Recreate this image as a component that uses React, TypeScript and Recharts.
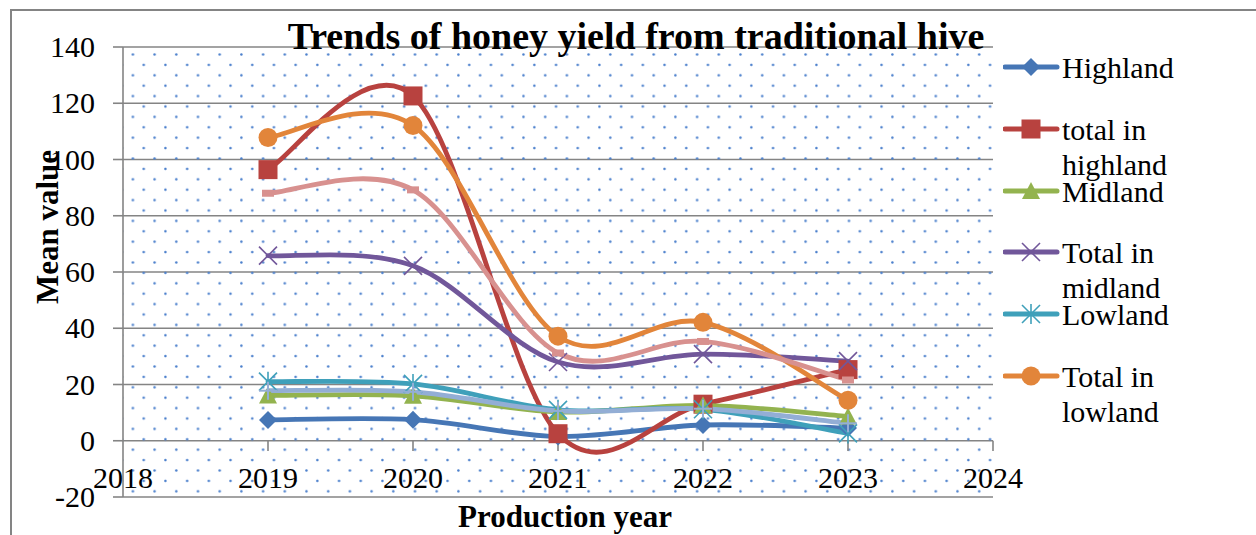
import React from 'react'
import { LineChart, Line, XAxis, YAxis, CartesianGrid, ReferenceArea, ReferenceLine, Label } from 'recharts'

// values (mean honey yield per year)
const years = [2019, 2020, 2021, 2022, 2023]
const highland = [7.4, 7.5, 1.5, 5.6, 4.5]
const totalHighland = [96.4, 122.6, 2.5, 13.0, 25.3]
const midland = [16.1, 16.0, 10.2, 12.6, 8.6]
const totalMidland = [65.8, 62.2, 28.0, 30.8, 28.3]
const lowland = [21.0, 20.2, 11.0, 11.2, 2.6]
const totalLowland = [107.8, 112.1, 37.2, 42.1, 14.4]
// two more series whose legend entries are cut off in the original
const series7 = [88.0, 89.2, 31.2, 35.3, 21.6]
const series8 = [17.8, 17.4, 10.6, 11.4, 6.2]

const xTicks = [2018, 2019, 2020, 2021, 2022, 2023, 2024]
const yTicks = [-20, 0, 20, 40, 60, 80, 100, 120, 140]

const FONT = "'Liberation Serif', 'Times New Roman', serif"
const GRID = '#848484'

type Shape = 'diamond' | 'square' | 'triangle' | 'x' | 'star' | 'circle' | 'dash' | 'plus'

const series: { key: string; name: string; color: string; shape: Shape; legend: boolean }[] = [
  { key: 'highland', name: 'Highland', color: '#4676B5', shape: 'diamond', legend: true },
  { key: 'totalHighland', name: 'total in highland', color: '#B8423F', shape: 'square', legend: true },
  { key: 'midland', name: 'Midland', color: '#93B34F', shape: 'triangle', legend: true },
  { key: 'totalMidland', name: 'Total in midland', color: '#71579A', shape: 'x', legend: true },
  { key: 'lowland', name: 'Lowland', color: '#3FA0BA', shape: 'star', legend: true },
  { key: 'totalLowland', name: 'Total in lowland', color: '#E2853A', shape: 'circle', legend: true },
  { key: 'series7', name: 'Series7', color: '#D8918F', shape: 'dash', legend: false },
  { key: 'series8', name: 'Series8', color: '#93AED5', shape: 'plus', legend: false },
]

const data = years.map((year, i) => ({
  year,
  highland: highland[i],
  totalHighland: totalHighland[i],
  midland: midland[i],
  totalMidland: totalMidland[i],
  lowland: lowland[i],
  totalLowland: totalLowland[i],
  series7: series7[i],
  series8: series8[i],
}))

// excel style smoothed line (catmull-rom through every point)
const excelSmooth = (context: any) => {
  let pts: number[][] = []
  return {
    areaStart() {},
    areaEnd() {},
    lineStart() {
      pts = []
    },
    point(x: number, y: number) {
      pts.push([+x, +y])
    },
    lineEnd() {
      const n = pts.length
      if (!n) return
      context.moveTo(pts[0][0], pts[0][1])
      for (let i = 0; i < n - 1; i++) {
        const p0 = pts[i - 1] || pts[i]
        const p1 = pts[i]
        const p2 = pts[i + 1]
        const p3 = pts[i + 2] || p2
        context.bezierCurveTo(
          p1[0] + (p2[0] - p0[0]) / 6,
          p1[1] + (p2[1] - p0[1]) / 6,
          p2[0] - (p3[0] - p1[0]) / 6,
          p2[1] - (p3[1] - p1[1]) / 6,
          p2[0],
          p2[1]
        )
      }
    },
  }
}

const Marker = ({ cx, cy, shape, color }: { cx: number; cy: number; shape: Shape; color: string }) => {
  const s = 9
  switch (shape) {
    case 'diamond':
      return <polygon points={`${cx},${cy - s} ${cx + s},${cy} ${cx},${cy + s} ${cx - s},${cy}`} fill={color} />
    case 'square':
      return <rect x={cx - 9.5} y={cy - 9.5} width={19} height={19} fill={color} />
    case 'triangle':
      return <polygon points={`${cx},${cy - s} ${cx + s},${cy + 8} ${cx - s},${cy + 8}`} fill={color} />
    case 'circle':
      return <circle cx={cx} cy={cy} r={9.5} fill={color} />
    case 'x':
      return (
        <g stroke={color} strokeWidth={1.6}>
          <line x1={cx - s} y1={cy - s} x2={cx + s} y2={cy + s} />
          <line x1={cx - s} y1={cy + s} x2={cx + s} y2={cy - s} />
        </g>
      )
    case 'star':
      return (
        <g stroke={color} strokeWidth={1.6}>
          <line x1={cx - s} y1={cy - s} x2={cx + s} y2={cy + s} />
          <line x1={cx - s} y1={cy + s} x2={cx + s} y2={cy - s} />
          <line x1={cx} y1={cy - s - 1} x2={cx} y2={cy + s + 1} />
        </g>
      )
    case 'plus':
      return (
        <g stroke={color} strokeWidth={2}>
          <line x1={cx - s} y1={cy} x2={cx + s} y2={cy} />
          <line x1={cx} y1={cy - s} x2={cx} y2={cy + s} />
        </g>
      )
    case 'dash':
      return <rect x={cx - 6} y={cy - 3.5} width={12} height={7} fill={color} />
  }
  return null
}

// year labels sit just inside the bottom of the plot, as in excel
const XTick = (props: any) => {
  const { x, y, payload } = props
  return (
    <text x={x} y={y - 9} textAnchor="middle" fontSize={30} fontFamily={FONT} fill="#000">
      {payload.value}
    </text>
  )
}

const YTick = (props: any) => {
  const { x, y, payload } = props
  return (
    <text x={x} y={y} dy="0.34em" textAnchor="end" fontSize={30} fontFamily={FONT} fill="#000">
      {payload.value}
    </text>
  )
}

const Legendish = () => (
  <div style={{ position: 'absolute', left: 1003, top: 0 }}>
    {series
      .filter((s) => s.legend)
      .map((s, i) => (
        <div key={s.key} style={{ position: 'absolute', left: 0, top: 67 + i * 61.8 - 17, width: 250 }}>
          <svg width={58} height={34} style={{ position: 'absolute', left: 0, top: 0 }}>
            <line x1={2} y1={17} x2={54} y2={17} stroke={s.color} strokeWidth={5} strokeLinecap="round" />
            <Marker cx={28} cy={17} shape={s.shape} color={s.color} />
          </svg>
          <div
            style={{
              position: 'absolute',
              left: 59,
              top: 0,
              width: 188,
              fontFamily: FONT,
              fontSize: 30,
              lineHeight: '35px',
              color: '#000',
            }}
          >
            {s.name}
          </div>
        </div>
      ))}
  </div>
)

export default function App() {
  return (
    <div style={{ position: 'absolute', left: 0, top: 0, width: 1256, height: 535, overflow: 'hidden', background: '#fff' }}>
      <svg width={0} height={0} style={{ position: 'absolute' }}>
        <defs>
          <pattern id="dots" patternUnits="userSpaceOnUse" x={131.5} y={53} width={21.7} height={20.8}>
            <circle cx={1.4} cy={1.4} r={1.25} fill="#4A7FCC" />
            <circle cx={12.25} cy={11.8} r={1.25} fill="#4A7FCC" />
          </pattern>
        </defs>
      </svg>
      <div
        style={{
          position: 'absolute',
          left: 10,
          top: 9,
          width: 1300,
          height: 600,
          borderTop: `2px solid ${GRID}`,
          borderLeft: `2px solid ${GRID}`,
        }}
      />
      <LineChart width={1256} height={535} data={data} margin={{ top: 47, right: 263, bottom: 0, left: 0 }}>
        <ReferenceArea x1={2018} x2={2024} y1={-20} y2={140} fill="url(#dots)" fillOpacity={1} stroke="none" />
        <CartesianGrid vertical={false} stroke={GRID} strokeWidth={1.6} />
        <XAxis
          dataKey="year"
          type="number"
          domain={[2018, 2024]}
          ticks={xTicks}
          interval={0}
          axisLine={false}
          tickLine={false}
          tickSize={0}
          tickMargin={0}
          height={38}
          tick={XTick}
        >
          <Label
            content={(p: any) => (
              <text
                x={p.viewBox.x + 442}
                y={p.viewBox.y + 30}
                textAnchor="middle"
                fontSize={31}
                fontWeight="bold"
                fontFamily={FONT}
                fill="#000"
              >
                Production year
              </text>
            )}
          />
        </XAxis>
        <YAxis
          type="number"
          domain={[-20, 140]}
          ticks={yTicks}
          interval={0}
          width={123}
          axisLine={{ stroke: GRID, strokeWidth: 1.6 }}
          tickLine={{ stroke: GRID, strokeWidth: 1.6 }}
          tickSize={10}
          tickMargin={18}
          tick={YTick}
        >
          <Label
            content={(p: any) => (
              <text
                transform={`translate(${p.viewBox.x + 47}, ${p.viewBox.y + 180}) rotate(-90)`}
                textAnchor="middle"
                dominantBaseline="central"
                fontSize={31}
                fontWeight="bold"
                fontFamily={FONT}
                fill="#000"
              >
                Mean value
              </text>
            )}
          />
        </YAxis>
        {xTicks.slice(1).map((yr) => (
          <ReferenceLine
            key={yr}
            segment={[
              { x: yr, y: 0 },
              { x: yr, y: -3.6 },
            ]}
            stroke={GRID}
            strokeWidth={1.6}
            ifOverflow="visible"
          />
        ))}
        {series.map((s) => (
          <Line
            key={s.key}
            dataKey={s.key}
            name={s.name}
            type={excelSmooth as any}
            stroke={s.color}
            strokeWidth={4.8}
            strokeLinecap="round"
            dot={(p: any) => <Marker key={`${s.key}-${p.index}`} cx={p.cx} cy={p.cy} shape={s.shape} color={s.color} />}
            activeDot={false}
            legendType={s.legend ? 'line' : 'none'}
            isAnimationActive={false}
          />
        ))}
      </LineChart>
      <div
        style={{
          position: 'absolute',
          left: 236,
          top: 17,
          width: 800,
          textAlign: 'center',
          fontFamily: FONT,
          fontSize: 38,
          fontWeight: 'bold',
          lineHeight: '38px',
          color: '#000',
        }}
      >
        Trends of honey yield from traditional hive
      </div>
      <Legendish />
    </div>
  )
}
